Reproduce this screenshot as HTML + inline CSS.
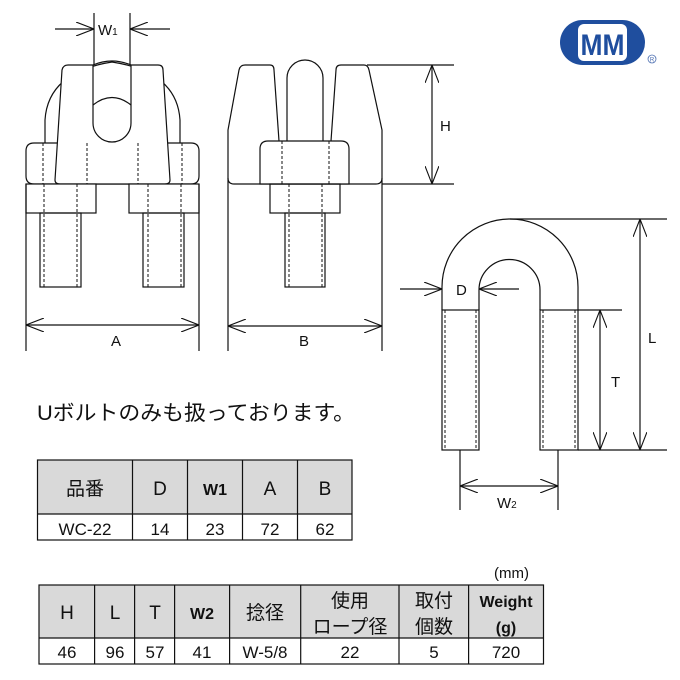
<!DOCTYPE html>
<html><head><meta charset="utf-8"><style>
html,body{margin:0;padding:0;background:#fff;}
svg{display:block;}
text{font-family:"Liberation Sans","Noto Sans CJK JP",sans-serif;fill:#111;}
</style></head><body>
<svg width="680" height="680" viewBox="0 0 680 680" xmlns="http://www.w3.org/2000/svg">
<defs>
<marker id="ah" viewBox="0 0 18 14" refX="18" refY="7" markerWidth="18" markerHeight="14" orient="auto" markerUnits="userSpaceOnUse">
<path d="M0,0 L18,7 L0,14" fill="none" stroke="#111" stroke-width="1.1"/>
</marker>
</defs>
<g fill="none" stroke="#111" stroke-width="1.2">
<!-- LEFT VIEW -->
<path d="M45,143 L45,120 Q48,72 112,62 Q177,72 180,120 L180,143"/>
<path d="M26,151 Q26,143 34,143 L191,143 Q199,143 199,151 L199,176 Q199,184 191,184 L34,184 Q26,184 26,176 Z" fill="#fff"/>
<path d="M55,180 L62,70 Q63,65 68,65 L93,65 L93,123 A19,19 0 0 0 131,123 L131,65 L158,65 Q163,65 163,70 L170,180 Q170,184 165,184 L60,184 Q55,184 55,180 Z" fill="#fff"/>
<path d="M93,65 Q112,57 131,65"/>
<path d="M93,105 Q112,90 131,105"/>
<rect x="26" y="184" width="70" height="29" fill="#fff"/>
<rect x="129" y="184" width="70" height="29" fill="#fff"/>
<rect x="40" y="213" width="41" height="74"/>
<rect x="143" y="213" width="41" height="74"/>
<g stroke-dasharray="3,2" stroke-width="1">
<line x1="43" y1="143" x2="43" y2="184"/><line x1="44" y1="184" x2="44" y2="287"/>
<line x1="77" y1="184" x2="77" y2="287"/>
<line x1="87" y1="143" x2="87" y2="184"/>
<line x1="138" y1="143" x2="138" y2="184"/>
<line x1="148" y1="184" x2="148" y2="287"/>
<line x1="182" y1="143" x2="182" y2="184"/><line x1="181" y1="184" x2="181" y2="287"/>
</g>
<line x1="94" y1="13" x2="94" y2="65"/><line x1="130" y1="13" x2="130" y2="65"/>
<line x1="55" y1="29" x2="94" y2="29" marker-end="url(#ah)"/>
<line x1="170" y1="29" x2="130" y2="29" marker-end="url(#ah)"/>
<line x1="26" y1="184" x2="26" y2="351"/><line x1="199" y1="184" x2="199" y2="351"/>
<line x1="112" y1="325" x2="26" y2="325" marker-end="url(#ah)"/>
<line x1="112" y1="325" x2="199" y2="325" marker-end="url(#ah)"/>
<!-- MIDDLE VIEW -->
<path d="M228,184 L228,130 L239,70 Q240,65 245,65 L270,65 Q274,65 274,70 L279,141"/>
<path d="M287,141 L287,78 A18,18 0 0 1 323,78 L323,141"/>
<path d="M331,141 L336,70 Q336,65 341,65 L364,65 Q368,65 369,70 L382,130 L382,184"/>
<path d="M228,178 Q228,184 234,184 L376,184 Q382,184 382,178"/>
<path d="M260,149 Q260,141 268,141 L341,141 Q349,141 349,149 L349,184 L260,184 Z" fill="#fff"/>
<rect x="270" y="184" width="70" height="29"/>
<rect x="285" y="213" width="40" height="74"/>
<g stroke-dasharray="3,2" stroke-width="1">
<line x1="282" y1="141" x2="282" y2="184"/><line x1="329" y1="141" x2="329" y2="184"/>
<line x1="289" y1="184" x2="289" y2="287"/><line x1="322" y1="184" x2="322" y2="287"/>
</g>
<line x1="228" y1="184" x2="228" y2="351"/><line x1="382" y1="184" x2="382" y2="351"/>
<line x1="305" y1="326" x2="228" y2="326" marker-end="url(#ah)"/>
<line x1="305" y1="326" x2="382" y2="326" marker-end="url(#ah)"/>
<line x1="367" y1="65" x2="454" y2="65"/><line x1="382" y1="184" x2="454" y2="184"/>
<line x1="432" y1="125" x2="432" y2="65" marker-end="url(#ah)"/>
<line x1="432" y1="125" x2="432" y2="184" marker-end="url(#ah)"/>
<!-- U BOLT -->
<path d="M442,310 L442,287 A68,68 0 0 1 578,287 L578,310 M540,310 L540,290 A30.5,30.5 0 0 0 479,290 L479,310"/>
<rect x="442" y="310" width="37" height="140"/>
<rect x="540" y="310" width="38" height="140"/>
<g stroke-dasharray="3,2" stroke-width="1">
<line x1="445" y1="310" x2="445" y2="450"/><line x1="476" y1="310" x2="476" y2="450"/>
<line x1="543" y1="310" x2="543" y2="450"/><line x1="575" y1="310" x2="575" y2="450"/>
</g>
<line x1="400" y1="289" x2="442" y2="289" marker-end="url(#ah)"/>
<line x1="519" y1="289" x2="479" y2="289" marker-end="url(#ah)"/>
<line x1="510" y1="219" x2="667" y2="219"/>
<line x1="578" y1="450" x2="667" y2="450"/>
<line x1="578" y1="310" x2="622" y2="310"/>
<line x1="640" y1="335" x2="640" y2="219" marker-end="url(#ah)"/>
<line x1="640" y1="335" x2="640" y2="450" marker-end="url(#ah)"/>
<line x1="600" y1="380" x2="600" y2="310" marker-end="url(#ah)"/>
<line x1="600" y1="380" x2="600" y2="450" marker-end="url(#ah)"/>
<line x1="460" y1="450" x2="460" y2="510"/><line x1="558" y1="450" x2="558" y2="510"/>
<line x1="509" y1="486" x2="460" y2="486" marker-end="url(#ah)"/>
<line x1="509" y1="486" x2="558" y2="486" marker-end="url(#ah)"/>
</g>
<g font-size="15">
<text x="98" y="35">W<tspan font-size="10">1</tspan></text>
<text x="111" y="346">A</text>
<text x="299" y="346">B</text>
<text x="440" y="131">H</text>
<text x="456" y="295">D</text>
<text x="648" y="343">L</text>
<text x="611" y="387">T</text>
<text x="497" y="508">W<tspan font-size="10">2</tspan></text>
</g>
<!-- LOGO -->
<rect x="560" y="20" width="85" height="45" rx="22.5" fill="#1f4e9e"/>
<rect x="578" y="24" width="49" height="37" rx="6" fill="#fff"/>
<text x="602.5" y="55" font-size="30" font-weight="bold" text-anchor="middle" style="fill:#1f4e9e" textLength="44" lengthAdjust="spacingAndGlyphs">MM</text>
<circle cx="652" cy="59" r="4" fill="none" stroke="#4a6db0" stroke-width="0.8"/>
<text x="652" y="61.5" font-size="6" text-anchor="middle" style="fill:#4a6db0">R</text>
<text x="37" y="420" font-size="21" textLength="318" lengthAdjust="spacingAndGlyphs">Uボルトのみも扱っております。</text>
<!-- TABLE 1 -->
<rect x="37.5" y="460" width="314.5" height="54" fill="#d9d9d9"/>
<g stroke="#111" stroke-width="1.2" fill="none">
<rect x="37.5" y="460" width="314.5" height="80"/>
<line x1="37.5" y1="514" x2="352" y2="514"/>
<line x1="132.5" y1="460" x2="132.5" y2="540"/><line x1="187.5" y1="460" x2="187.5" y2="540"/>
<line x1="242.5" y1="460" x2="242.5" y2="540"/><line x1="297.5" y1="460" x2="297.5" y2="540"/>
</g>
<g font-size="19" text-anchor="middle">
<text x="85" y="495">品番</text><text x="160" y="495">D</text><text x="215" y="495" font-weight="bold" font-size="16">W1</text><text x="270" y="495">A</text><text x="325" y="495">B</text>
<text x="85" y="535" font-size="17">WC-22</text><text x="160" y="535" font-size="17">14</text><text x="215" y="535" font-size="17">23</text><text x="270" y="535" font-size="17">72</text><text x="325" y="535" font-size="17">62</text>
</g>
<text x="494" y="578" font-size="15">(mm)</text>
<!-- TABLE 2 -->
<rect x="39" y="585" width="504.5" height="53" fill="#d9d9d9"/>
<g stroke="#111" stroke-width="1.2" fill="none">
<rect x="39" y="585" width="504.5" height="79"/>
<line x1="39" y1="638" x2="543.5" y2="638"/>
<line x1="94.6" y1="585" x2="94.6" y2="664"/><line x1="134.6" y1="585" x2="134.6" y2="664"/>
<line x1="174.6" y1="585" x2="174.6" y2="664"/><line x1="229.6" y1="585" x2="229.6" y2="664"/>
<line x1="300.7" y1="585" x2="300.7" y2="664"/><line x1="399" y1="585" x2="399" y2="664"/>
<line x1="468.6" y1="585" x2="468.6" y2="664"/>
</g>
<g font-size="19" text-anchor="middle">
<text x="67" y="619">H</text><text x="115" y="619">L</text><text x="155" y="619">T</text><text x="202" y="619" font-weight="bold" font-size="16">W2</text><text x="265" y="619">捻径</text>
<text x="350" y="607">使用</text><text x="350" y="633">ロープ径</text>
<text x="434" y="607">取付</text><text x="434" y="633">個数</text>
<text x="506" y="607" font-weight="bold" font-size="16">Weight</text><text x="506" y="633" font-weight="bold" font-size="16">(g)</text>
<g font-size="17">
<text x="67" y="658">46</text><text x="115" y="658">96</text><text x="155" y="658">57</text><text x="202" y="658">41</text><text x="265" y="658">W-5/8</text><text x="350" y="658">22</text><text x="434" y="658">5</text><text x="506" y="658">720</text>
</g>
</g>
</svg>
</body></html>
